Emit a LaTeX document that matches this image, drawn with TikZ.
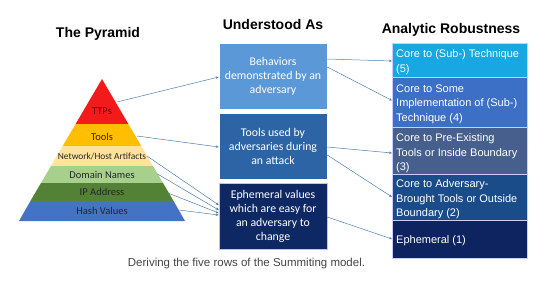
\documentclass[tikz,border=0pt]{standalone}
\usepackage{fontspec}
\setmainfont{Liberation Sans}
\newfontfamily\calib{Carlito}
\usetikzlibrary{arrows.meta}
\definecolor{cTTP}{HTML}{F21A1A}
\definecolor{cTool}{HTML}{FFBF00}
\definecolor{cNet}{HTML}{FFE49A}
\definecolor{cDom}{HTML}{A8D08D}
\definecolor{cIP}{HTML}{538135}
\definecolor{cHash}{HTML}{4472C4}
\definecolor{mA}{HTML}{5A98D8}
\definecolor{mB}{HTML}{2D64A5}
\definecolor{mC}{HTML}{0D2862}
\definecolor{rA}{HTML}{17A8E3}
\definecolor{rB}{HTML}{3B70C6}
\definecolor{rC}{HTML}{475F8C}
\definecolor{rD}{HTML}{1A4C8A}
\definecolor{rE}{HTML}{0E2460}
\definecolor{lnk}{HTML}{4F7FA6}
\definecolor{capg}{HTML}{444444}
\tikzset{
  ttl/.style={font=\bfseries\fontsize{14}{16}\selectfont, text=black},
  plab/.style={font=\calib\fontsize{10.5}{12}\selectfont, text=black!85, inner sep=0},
  mbox/.style={draw=white, line width=0.6pt, minimum width=108pt, minimum height=66pt, align=center, text=white, font=\calib\fontsize{11.8}{14}\selectfont},
  rrow/.style={draw=white!80!blue, line width=0.4pt},
  rtxt/.style={anchor=north west, text=white, align=left, inner sep=0, font=\fontsize{11}{14.5}\selectfont},
  lk/.style={draw=lnk, line width=0.5pt, -{Stealth[length=3pt,width=2.5pt]}}
}
\begin{document}
\begin{tikzpicture}[x=1pt,y=-1pt]
\useasboundingbox (0,0) rectangle (548,298);
% titles
\node[ttl] (t1) at (98,34) {The Pyramid};
\node[ttl] (t2) at (273,24) {Understood As};
\node[ttl] (t3) at (451,30) {Analytic Robustness};
% pyramid layers (apex 102,79; base 19..185 at 221)
\fill[cTTP]  (102,79) -- (128.4,124) -- (75.6,124) -- cycle;
\fill[cTool] (75.6,124) -- (128.4,124) -- (141.3,146) -- (62.7,146) -- cycle;
\fill[cNet]  (62.7,146) -- (141.3,146) -- (153.0,166) -- (51.0,166) -- cycle;
\fill[cDom]  (51.0,166) -- (153.0,166) -- (163.0,183) -- (41.0,183) -- cycle;
\fill[cIP]   (41.0,183) -- (163.0,183) -- (173.6,201) -- (30.4,201) -- cycle;
\fill[cHash] (30.4,201) -- (173.6,201) -- (185,221) -- (19,221) -- cycle;
\node[plab, text=red!45!black] (ttp) at (102,111) {TTPs};
\node[plab] (tools) at (102,137) {Tools};
\node[plab, font=\calib\fontsize{9.4}{10}\selectfont] (net) at (102,156) {Network/Host Artifacts};
\node[plab] (dom) at (102,174.5) {Domain Names};
\node[plab] (ip) at (102,192) {IP Address};
\node[plab] (hash) at (102,210.5) {Hash Values};
\coordinate (pTTP) at (117,102);
\coordinate (pTool) at (137,136);
\coordinate (pNet) at (147,156);
\coordinate (pDom) at (157.5,174);
\coordinate (pIP) at (168,193);
\coordinate (pHash) at (179,210);
% middle boxes
\node[mbox, fill=mA] (m1) at (273,76) {Behaviors\\demonstrated by an\\adversary};
\node[mbox, fill=mB] (m2) at (273,146) {Tools used by\\adversaries during\\an attack};
\node[mbox, fill=mC, draw=white!75!blue] (m3) at (273,216.5) {Ephemeral values\\which are easy for\\an adversary to\\change};
% right rows
\filldraw[rrow, fill=rA] (392,43) rectangle (527,77);
\filldraw[rrow, fill=rB] (392,77) rectangle (527,127);
\filldraw[rrow, fill=rC] (392,127) rectangle (527,174);
\filldraw[rrow, fill=rD] (392,174) rectangle (527,220);
\filldraw[rrow, fill=rE] (392,220) rectangle (527,258);
\node[rtxt] (r1) at (396,49.5) {Core to (Sub-) Technique\\(5)};
\node[rtxt] (r2) at (396,84.5) {Core to Some\\Implementation of (Sub-)\\Technique (4)};
\node[rtxt] (r3) at (396,133.5) {Core to Pre-Existing\\Tools or Inside Boundary\\(3)};
\node[rtxt] (r4) at (396,179.5) {Core to Adversary-\\Brought Tools or Outside\\Boundary (2)};
\node[rtxt] (r5) at (396,235.5) {Ephemeral (1)};
% connectors
\draw[lk] (pTTP) -- ([yshift=-1pt]m1.west);
\draw[lk] (pTool) -- ([yshift=-1pt]m2.west);
\draw[lk] (pNet) -- ([yshift=11.5pt]m3.west);
\draw[lk] (pDom) -- ([yshift=6.5pt]m3.west);
\draw[lk] (pIP) -- ([yshift=3.5pt]m3.west);
\draw[lk] (pHash) -- ([yshift=1.5pt]m3.west);
\coordinate (e1) at (392,61);
\coordinate (e2) at (392,100.5);
\coordinate (e3) at (392,153);
\coordinate (e4) at (392,197);
\coordinate (e5) at (392,239);
\draw[lk] ([yshift=17pt]m1.east) -- (e1);
\draw[lk] ([yshift=9pt]m1.east) -- (e2);
\draw[lk] ([yshift=-1pt]m2.east) -- (e3);
\draw[lk] ([yshift=-9pt]m2.east) -- (e4);
\draw[lk] ([yshift=-0.5pt]m3.east) -- (e5);
% caption
\node[text=capg, font=\fontsize{11.5}{13}\selectfont] (cap) at (246.5,264) {Deriving the five rows of the Summiting model.};
\end{tikzpicture}
\end{document}
